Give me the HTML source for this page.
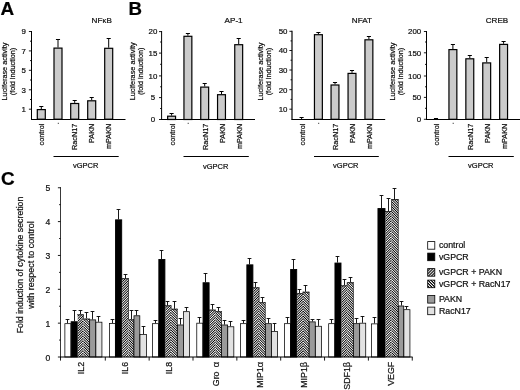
<!DOCTYPE html>
<html><head><meta charset="utf-8"><title>figure</title>
<style>
html,body{margin:0;padding:0;background:#fff;}
body{width:520px;height:390px;overflow:hidden;font-family:"Liberation Sans",sans-serif;}
svg{display:block;}
.bl{filter:blur(0.35px);}
svg text{font-family:"Liberation Sans",sans-serif;}
</style></head><body>
<svg width="520" height="390" viewBox="0 0 520 390">
<defs>
<pattern id="h1" width="1.75" height="1.75" patternUnits="userSpaceOnUse" patternTransform="rotate(-45)">
<rect width="1.75" height="1.75" fill="#fff"/><rect width="1.75" height="0.82" fill="#000" shape-rendering="crispEdges"/></pattern>
<pattern id="h2" width="1.75" height="1.75" patternUnits="userSpaceOnUse" patternTransform="rotate(45)">
<rect width="1.75" height="1.75" fill="#fff"/><rect width="1.75" height="0.82" fill="#000" shape-rendering="crispEdges"/></pattern>
<pattern id="h1L" width="2.1" height="2.1" patternUnits="userSpaceOnUse" patternTransform="rotate(-45)">
<rect width="2.1" height="2.1" fill="#fff"/><rect width="2.1" height="1.1" fill="#000"/></pattern>
<pattern id="h2L" width="2.1" height="2.1" patternUnits="userSpaceOnUse" patternTransform="rotate(45)">
<rect width="2.1" height="2.1" fill="#fff"/><rect width="2.1" height="1.1" fill="#000"/></pattern>
</defs>
<rect width="520" height="390" fill="#fff"/>
<g class="bl">
<line x1="41.30" y1="109.00" x2="41.30" y2="106.50" stroke="#000" stroke-width="1.0"/>
<line x1="39.25" y1="106.50" x2="43.35" y2="106.50" stroke="#000" stroke-width="1.0"/>
<rect x="37.30" y="109.60" width="8.00" height="9.60" fill="#cbcbcb" stroke="#000" stroke-width="1.2"/>
<line x1="58.00" y1="47.50" x2="58.00" y2="39.50" stroke="#000" stroke-width="1.0"/>
<line x1="55.95" y1="39.50" x2="60.05" y2="39.50" stroke="#000" stroke-width="1.0"/>
<rect x="54.00" y="48.10" width="8.00" height="71.10" fill="#cbcbcb" stroke="#000" stroke-width="1.2"/>
<line x1="74.70" y1="102.90" x2="74.70" y2="100.50" stroke="#000" stroke-width="1.0"/>
<line x1="72.65" y1="100.50" x2="76.75" y2="100.50" stroke="#000" stroke-width="1.0"/>
<rect x="70.70" y="103.50" width="8.00" height="15.70" fill="#cbcbcb" stroke="#000" stroke-width="1.2"/>
<line x1="91.70" y1="100.20" x2="91.70" y2="97.50" stroke="#000" stroke-width="1.0"/>
<line x1="89.65" y1="97.50" x2="93.75" y2="97.50" stroke="#000" stroke-width="1.0"/>
<rect x="87.70" y="100.80" width="8.00" height="18.40" fill="#cbcbcb" stroke="#000" stroke-width="1.2"/>
<line x1="108.70" y1="47.70" x2="108.70" y2="38.50" stroke="#000" stroke-width="1.0"/>
<line x1="106.65" y1="38.50" x2="110.75" y2="38.50" stroke="#000" stroke-width="1.0"/>
<rect x="104.70" y="48.30" width="8.00" height="70.90" fill="#cbcbcb" stroke="#000" stroke-width="1.2"/>
<line x1="31.50" y1="31.00" x2="31.50" y2="119.70" stroke="#000" stroke-width="1"/>
<line x1="31.00" y1="119.50" x2="125.50" y2="119.50" stroke="#000" stroke-width="1"/>
<line x1="28.90" y1="31.50" x2="31.50" y2="31.50" stroke="#000" stroke-width="0.9"/>
<text x="25.90" y="34.30" font-size="7.9" text-anchor="end" font-weight="normal" fill="#111" stroke="#111" stroke-width="0.22">9</text>
<line x1="28.90" y1="50.90" x2="31.50" y2="50.90" stroke="#000" stroke-width="0.9"/>
<text x="25.90" y="53.70" font-size="7.9" text-anchor="end" font-weight="normal" fill="#111" stroke="#111" stroke-width="0.22">7</text>
<line x1="28.90" y1="70.30" x2="31.50" y2="70.30" stroke="#000" stroke-width="0.9"/>
<text x="25.90" y="73.10" font-size="7.9" text-anchor="end" font-weight="normal" fill="#111" stroke="#111" stroke-width="0.22">5</text>
<line x1="28.90" y1="89.80" x2="31.50" y2="89.80" stroke="#000" stroke-width="0.9"/>
<text x="25.90" y="92.60" font-size="7.9" text-anchor="end" font-weight="normal" fill="#111" stroke="#111" stroke-width="0.22">3</text>
<line x1="28.90" y1="109.20" x2="31.50" y2="109.20" stroke="#000" stroke-width="0.9"/>
<text x="25.90" y="112.00" font-size="7.9" text-anchor="end" font-weight="normal" fill="#111" stroke="#111" stroke-width="0.22">1</text>
<line x1="30.00" y1="41.20" x2="31.50" y2="41.20" stroke="#000" stroke-width="0.9"/>
<line x1="30.00" y1="60.60" x2="31.50" y2="60.60" stroke="#000" stroke-width="0.9"/>
<line x1="30.00" y1="80.00" x2="31.50" y2="80.00" stroke="#000" stroke-width="0.9"/>
<line x1="30.00" y1="99.50" x2="31.50" y2="99.50" stroke="#000" stroke-width="0.9"/>
<text x="112.00" y="23.40" font-size="8.1" text-anchor="end" font-weight="normal" fill="#111" stroke="#111" stroke-width="0.22">NF<tspan font-size="7.6" dx="0.2">κ</tspan><tspan dx="0.2">B</tspan></text>
<text x="44.00" y="123.60" font-size="7.3" text-anchor="end" font-weight="normal" fill="#111" stroke="#111" stroke-width="0.22" transform="rotate(-90 44.00 123.60)">control</text>
<line x1="57.80" y1="123.30" x2="58.80" y2="123.30" stroke="#000" stroke-width="0.9"/>
<text x="77.40" y="123.60" font-size="7.3" text-anchor="end" font-weight="normal" fill="#111" stroke="#111" stroke-width="0.22" transform="rotate(-90 77.40 123.60)">RacN17</text>
<text x="94.40" y="123.60" font-size="7.3" text-anchor="end" font-weight="normal" fill="#111" stroke="#111" stroke-width="0.22" transform="rotate(-90 94.40 123.60)">PAKN</text>
<text x="111.40" y="123.60" font-size="7.3" text-anchor="end" font-weight="normal" fill="#111" stroke="#111" stroke-width="0.22" transform="rotate(-90 111.40 123.60)">mPAKN</text>
<line x1="53.50" y1="156.50" x2="118.70" y2="156.50" stroke="#000" stroke-width="1"/>
<text x="85.70" y="168.00" font-size="7.5" text-anchor="middle" font-weight="normal" fill="#111" stroke="#111" stroke-width="0.22">vGPCR</text>
<text x="6.80" y="71.50" font-size="7.3" text-anchor="middle" font-weight="normal" fill="#111" stroke="#111" stroke-width="0.22" transform="rotate(-90 6.80 71.50)">Luciferase activity</text>
<text x="14.60" y="71.50" font-size="7.25" text-anchor="middle" font-weight="normal" fill="#111" stroke="#111" stroke-width="0.22" transform="rotate(-90 14.60 71.50)">(fold induction)</text>
<line x1="171.60" y1="115.60" x2="171.60" y2="113.50" stroke="#000" stroke-width="1.0"/>
<line x1="169.55" y1="113.50" x2="173.65" y2="113.50" stroke="#000" stroke-width="1.0"/>
<rect x="167.65" y="116.20" width="7.90" height="3.30" fill="#cbcbcb" stroke="#000" stroke-width="1.2"/>
<line x1="187.90" y1="35.70" x2="187.90" y2="33.50" stroke="#000" stroke-width="1.0"/>
<line x1="185.85" y1="33.50" x2="189.95" y2="33.50" stroke="#000" stroke-width="1.0"/>
<rect x="183.95" y="36.30" width="7.90" height="83.20" fill="#cbcbcb" stroke="#000" stroke-width="1.2"/>
<line x1="204.70" y1="86.50" x2="204.70" y2="83.50" stroke="#000" stroke-width="1.0"/>
<line x1="202.65" y1="83.50" x2="206.75" y2="83.50" stroke="#000" stroke-width="1.0"/>
<rect x="200.75" y="87.10" width="7.90" height="32.40" fill="#cbcbcb" stroke="#000" stroke-width="1.2"/>
<line x1="221.50" y1="94.10" x2="221.50" y2="91.50" stroke="#000" stroke-width="1.0"/>
<line x1="219.45" y1="91.50" x2="223.55" y2="91.50" stroke="#000" stroke-width="1.0"/>
<rect x="217.55" y="94.70" width="7.90" height="24.80" fill="#cbcbcb" stroke="#000" stroke-width="1.2"/>
<line x1="238.70" y1="44.10" x2="238.70" y2="38.50" stroke="#000" stroke-width="1.0"/>
<line x1="236.65" y1="38.50" x2="240.75" y2="38.50" stroke="#000" stroke-width="1.0"/>
<rect x="234.75" y="44.70" width="7.90" height="74.80" fill="#cbcbcb" stroke="#000" stroke-width="1.2"/>
<line x1="161.60" y1="31.00" x2="161.60" y2="120.00" stroke="#000" stroke-width="1"/>
<line x1="161.10" y1="119.50" x2="255.00" y2="119.50" stroke="#000" stroke-width="1"/>
<line x1="159.00" y1="31.60" x2="161.60" y2="31.60" stroke="#000" stroke-width="0.9"/>
<text x="153.00" y="34.40" font-size="7.9" text-anchor="middle" font-weight="normal" fill="#111" stroke="#111" stroke-width="0.22">20</text>
<line x1="159.00" y1="53.10" x2="161.60" y2="53.10" stroke="#000" stroke-width="0.9"/>
<text x="153.00" y="55.90" font-size="7.9" text-anchor="middle" font-weight="normal" fill="#111" stroke="#111" stroke-width="0.22">15</text>
<line x1="159.00" y1="75.90" x2="161.60" y2="75.90" stroke="#000" stroke-width="0.9"/>
<text x="153.00" y="78.70" font-size="7.9" text-anchor="middle" font-weight="normal" fill="#111" stroke="#111" stroke-width="0.22">10</text>
<line x1="159.00" y1="97.60" x2="161.60" y2="97.60" stroke="#000" stroke-width="0.9"/>
<text x="153.00" y="100.40" font-size="7.9" text-anchor="middle" font-weight="normal" fill="#111" stroke="#111" stroke-width="0.22">5</text>
<line x1="159.00" y1="119.50" x2="161.60" y2="119.50" stroke="#000" stroke-width="0.9"/>
<text x="153.00" y="122.30" font-size="7.9" text-anchor="middle" font-weight="normal" fill="#111" stroke="#111" stroke-width="0.22">0</text>
<line x1="160.10" y1="42.00" x2="161.60" y2="42.00" stroke="#000" stroke-width="0.9"/>
<line x1="160.10" y1="64.30" x2="161.60" y2="64.30" stroke="#000" stroke-width="0.9"/>
<line x1="160.10" y1="86.80" x2="161.60" y2="86.80" stroke="#000" stroke-width="0.9"/>
<line x1="160.10" y1="108.50" x2="161.60" y2="108.50" stroke="#000" stroke-width="0.9"/>
<text x="242.60" y="23.00" font-size="8.1" text-anchor="end" font-weight="normal" fill="#111" stroke="#111" stroke-width="0.22">AP-1</text>
<text x="175.30" y="123.60" font-size="7.3" text-anchor="end" font-weight="normal" fill="#111" stroke="#111" stroke-width="0.22" transform="rotate(-90 175.30 123.60)">control</text>
<line x1="187.70" y1="123.30" x2="188.70" y2="123.30" stroke="#000" stroke-width="0.9"/>
<text x="208.40" y="123.60" font-size="7.3" text-anchor="end" font-weight="normal" fill="#111" stroke="#111" stroke-width="0.22" transform="rotate(-90 208.40 123.60)">RacN17</text>
<text x="225.20" y="123.60" font-size="7.3" text-anchor="end" font-weight="normal" fill="#111" stroke="#111" stroke-width="0.22" transform="rotate(-90 225.20 123.60)">PAKN</text>
<text x="242.40" y="123.60" font-size="7.3" text-anchor="end" font-weight="normal" fill="#111" stroke="#111" stroke-width="0.22" transform="rotate(-90 242.40 123.60)">mPAKN</text>
<line x1="183.50" y1="156.50" x2="248.80" y2="156.50" stroke="#000" stroke-width="1"/>
<text x="215.70" y="168.50" font-size="7.5" text-anchor="middle" font-weight="normal" fill="#111" stroke="#111" stroke-width="0.22">vGPCR</text>
<text x="134.80" y="71.30" font-size="7.3" text-anchor="middle" font-weight="normal" fill="#111" stroke="#111" stroke-width="0.22" transform="rotate(-90 134.80 71.30)">Luciferase activity</text>
<text x="143.40" y="71.30" font-size="7.25" text-anchor="middle" font-weight="normal" fill="#111" stroke="#111" stroke-width="0.22" transform="rotate(-90 143.40 71.30)">(fold induction)</text>
<line x1="301.60" y1="119.00" x2="301.60" y2="117.50" stroke="#000" stroke-width="1.0"/>
<line x1="299.55" y1="117.50" x2="303.65" y2="117.50" stroke="#000" stroke-width="1.0"/>
<line x1="318.40" y1="34.10" x2="318.40" y2="32.50" stroke="#000" stroke-width="1.0"/>
<line x1="316.35" y1="32.50" x2="320.45" y2="32.50" stroke="#000" stroke-width="1.0"/>
<rect x="314.45" y="34.70" width="7.90" height="84.60" fill="#cbcbcb" stroke="#000" stroke-width="1.2"/>
<line x1="335.00" y1="84.40" x2="335.00" y2="82.50" stroke="#000" stroke-width="1.0"/>
<line x1="332.95" y1="82.50" x2="337.05" y2="82.50" stroke="#000" stroke-width="1.0"/>
<rect x="331.05" y="85.00" width="7.90" height="34.30" fill="#cbcbcb" stroke="#000" stroke-width="1.2"/>
<line x1="352.00" y1="72.80" x2="352.00" y2="70.50" stroke="#000" stroke-width="1.0"/>
<line x1="349.95" y1="70.50" x2="354.05" y2="70.50" stroke="#000" stroke-width="1.0"/>
<rect x="348.05" y="73.40" width="7.90" height="45.90" fill="#cbcbcb" stroke="#000" stroke-width="1.2"/>
<line x1="368.90" y1="39.20" x2="368.90" y2="36.50" stroke="#000" stroke-width="1.0"/>
<line x1="366.85" y1="36.50" x2="370.95" y2="36.50" stroke="#000" stroke-width="1.0"/>
<rect x="364.95" y="39.80" width="7.90" height="79.50" fill="#cbcbcb" stroke="#000" stroke-width="1.2"/>
<line x1="292.00" y1="30.80" x2="292.00" y2="119.80" stroke="#000" stroke-width="1.2"/>
<line x1="291.50" y1="119.50" x2="385.20" y2="119.50" stroke="#000" stroke-width="1"/>
<line x1="289.40" y1="31.30" x2="292.00" y2="31.30" stroke="#000" stroke-width="0.9"/>
<text x="287.50" y="34.10" font-size="7.9" text-anchor="end" font-weight="normal" fill="#111" stroke="#111" stroke-width="0.22">50</text>
<line x1="289.40" y1="50.50" x2="292.00" y2="50.50" stroke="#000" stroke-width="0.9"/>
<text x="287.50" y="53.30" font-size="7.9" text-anchor="end" font-weight="normal" fill="#111" stroke="#111" stroke-width="0.22">40</text>
<line x1="289.40" y1="70.00" x2="292.00" y2="70.00" stroke="#000" stroke-width="0.9"/>
<text x="287.50" y="72.80" font-size="7.9" text-anchor="end" font-weight="normal" fill="#111" stroke="#111" stroke-width="0.22">30</text>
<line x1="289.40" y1="89.70" x2="292.00" y2="89.70" stroke="#000" stroke-width="0.9"/>
<text x="287.50" y="92.50" font-size="7.9" text-anchor="end" font-weight="normal" fill="#111" stroke="#111" stroke-width="0.22">20</text>
<line x1="289.40" y1="109.20" x2="292.00" y2="109.20" stroke="#000" stroke-width="0.9"/>
<text x="287.50" y="112.00" font-size="7.9" text-anchor="end" font-weight="normal" fill="#111" stroke="#111" stroke-width="0.22">10</text>
<line x1="290.50" y1="40.90" x2="292.00" y2="40.90" stroke="#000" stroke-width="0.9"/>
<line x1="290.50" y1="60.20" x2="292.00" y2="60.20" stroke="#000" stroke-width="0.9"/>
<line x1="290.50" y1="79.80" x2="292.00" y2="79.80" stroke="#000" stroke-width="0.9"/>
<line x1="290.50" y1="99.40" x2="292.00" y2="99.40" stroke="#000" stroke-width="0.9"/>
<text x="371.90" y="23.00" font-size="8.1" text-anchor="end" font-weight="normal" fill="#111" stroke="#111" stroke-width="0.22">NFAT</text>
<text x="305.10" y="123.60" font-size="7.3" text-anchor="end" font-weight="normal" fill="#111" stroke="#111" stroke-width="0.22" transform="rotate(-90 305.10 123.60)">control</text>
<line x1="318.20" y1="123.30" x2="319.20" y2="123.30" stroke="#000" stroke-width="0.9"/>
<text x="338.50" y="123.60" font-size="7.3" text-anchor="end" font-weight="normal" fill="#111" stroke="#111" stroke-width="0.22" transform="rotate(-90 338.50 123.60)">RacN17</text>
<text x="355.50" y="123.60" font-size="7.3" text-anchor="end" font-weight="normal" fill="#111" stroke="#111" stroke-width="0.22" transform="rotate(-90 355.50 123.60)">PAKN</text>
<text x="372.40" y="123.60" font-size="7.3" text-anchor="end" font-weight="normal" fill="#111" stroke="#111" stroke-width="0.22" transform="rotate(-90 372.40 123.60)">mPAKN</text>
<line x1="314.00" y1="156.50" x2="378.80" y2="156.50" stroke="#000" stroke-width="1"/>
<text x="345.80" y="168.30" font-size="7.5" text-anchor="middle" font-weight="normal" fill="#111" stroke="#111" stroke-width="0.22">vGPCR</text>
<text x="263.30" y="71.50" font-size="7.3" text-anchor="middle" font-weight="normal" fill="#111" stroke="#111" stroke-width="0.22" transform="rotate(-90 263.30 71.50)">Luciferase activity</text>
<text x="271.20" y="71.50" font-size="7.25" text-anchor="middle" font-weight="normal" fill="#111" stroke="#111" stroke-width="0.22" transform="rotate(-90 271.20 71.50)">(fold induction)</text>
<line x1="436.00" y1="119.00" x2="436.00" y2="118.50" stroke="#000" stroke-width="1.0"/>
<line x1="433.95" y1="118.50" x2="438.05" y2="118.50" stroke="#000" stroke-width="1.0"/>
<line x1="452.90" y1="49.00" x2="452.90" y2="44.50" stroke="#000" stroke-width="1.0"/>
<line x1="450.85" y1="44.50" x2="454.95" y2="44.50" stroke="#000" stroke-width="1.0"/>
<rect x="448.95" y="49.60" width="7.90" height="69.70" fill="#cbcbcb" stroke="#000" stroke-width="1.2"/>
<line x1="469.80" y1="58.20" x2="469.80" y2="55.50" stroke="#000" stroke-width="1.0"/>
<line x1="467.75" y1="55.50" x2="471.85" y2="55.50" stroke="#000" stroke-width="1.0"/>
<rect x="465.85" y="58.80" width="7.90" height="60.50" fill="#cbcbcb" stroke="#000" stroke-width="1.2"/>
<line x1="486.70" y1="62.30" x2="486.70" y2="57.50" stroke="#000" stroke-width="1.0"/>
<line x1="484.65" y1="57.50" x2="488.75" y2="57.50" stroke="#000" stroke-width="1.0"/>
<rect x="482.75" y="62.90" width="7.90" height="56.40" fill="#cbcbcb" stroke="#000" stroke-width="1.2"/>
<line x1="503.60" y1="43.80" x2="503.60" y2="41.50" stroke="#000" stroke-width="1.0"/>
<line x1="501.55" y1="41.50" x2="505.65" y2="41.50" stroke="#000" stroke-width="1.0"/>
<rect x="499.65" y="44.40" width="7.90" height="74.90" fill="#cbcbcb" stroke="#000" stroke-width="1.2"/>
<line x1="426.50" y1="31.00" x2="426.50" y2="119.80" stroke="#000" stroke-width="1"/>
<line x1="426.00" y1="119.50" x2="520.00" y2="119.50" stroke="#000" stroke-width="1"/>
<line x1="423.90" y1="31.50" x2="426.50" y2="31.50" stroke="#000" stroke-width="0.9"/>
<text x="421.20" y="34.30" font-size="7.9" text-anchor="end" font-weight="normal" fill="#111" stroke="#111" stroke-width="0.22">200</text>
<line x1="423.90" y1="52.80" x2="426.50" y2="52.80" stroke="#000" stroke-width="0.9"/>
<text x="421.20" y="55.60" font-size="7.9" text-anchor="end" font-weight="normal" fill="#111" stroke="#111" stroke-width="0.22">150</text>
<line x1="423.90" y1="76.00" x2="426.50" y2="76.00" stroke="#000" stroke-width="0.9"/>
<text x="421.20" y="78.80" font-size="7.9" text-anchor="end" font-weight="normal" fill="#111" stroke="#111" stroke-width="0.22">100</text>
<line x1="423.90" y1="97.40" x2="426.50" y2="97.40" stroke="#000" stroke-width="0.9"/>
<text x="421.20" y="100.20" font-size="7.9" text-anchor="end" font-weight="normal" fill="#111" stroke="#111" stroke-width="0.22">50</text>
<line x1="423.90" y1="119.30" x2="426.50" y2="119.30" stroke="#000" stroke-width="0.9"/>
<text x="421.20" y="122.10" font-size="7.9" text-anchor="end" font-weight="normal" fill="#111" stroke="#111" stroke-width="0.22">0</text>
<line x1="425.00" y1="42.00" x2="426.50" y2="42.00" stroke="#000" stroke-width="0.9"/>
<line x1="425.00" y1="64.40" x2="426.50" y2="64.40" stroke="#000" stroke-width="0.9"/>
<line x1="425.00" y1="86.80" x2="426.50" y2="86.80" stroke="#000" stroke-width="0.9"/>
<line x1="425.00" y1="108.30" x2="426.50" y2="108.30" stroke="#000" stroke-width="0.9"/>
<text x="508.20" y="23.00" font-size="8.1" text-anchor="end" font-weight="normal" fill="#111" stroke="#111" stroke-width="0.22">CREB</text>
<text x="439.10" y="123.60" font-size="7.3" text-anchor="end" font-weight="normal" fill="#111" stroke="#111" stroke-width="0.22" transform="rotate(-90 439.10 123.60)">control</text>
<line x1="452.70" y1="123.30" x2="453.70" y2="123.30" stroke="#000" stroke-width="0.9"/>
<text x="472.90" y="123.60" font-size="7.3" text-anchor="end" font-weight="normal" fill="#111" stroke="#111" stroke-width="0.22" transform="rotate(-90 472.90 123.60)">RacN17</text>
<text x="489.80" y="123.60" font-size="7.3" text-anchor="end" font-weight="normal" fill="#111" stroke="#111" stroke-width="0.22" transform="rotate(-90 489.80 123.60)">PAKN</text>
<text x="506.70" y="123.60" font-size="7.3" text-anchor="end" font-weight="normal" fill="#111" stroke="#111" stroke-width="0.22" transform="rotate(-90 506.70 123.60)">mPAKN</text>
<line x1="448.50" y1="156.50" x2="513.80" y2="156.50" stroke="#000" stroke-width="1"/>
<text x="480.80" y="168.00" font-size="7.5" text-anchor="middle" font-weight="normal" fill="#111" stroke="#111" stroke-width="0.22">vGPCR</text>
<text x="394.80" y="71.50" font-size="7.3" text-anchor="middle" font-weight="normal" fill="#111" stroke="#111" stroke-width="0.22" transform="rotate(-90 394.80 71.50)">Luciferase activity</text>
<text x="402.70" y="71.50" font-size="7.25" text-anchor="middle" font-weight="normal" fill="#111" stroke="#111" stroke-width="0.22" transform="rotate(-90 402.70 71.50)">(fold induction)</text>
<text x="0.60" y="15.20" font-size="18.9" text-anchor="start" font-weight="bold" fill="#000" stroke="#000" stroke-width="0.22">A</text>
<text x="128.60" y="15.20" font-size="18.7" text-anchor="start" font-weight="bold" fill="#000" stroke="#000" stroke-width="0.22">B</text>
<text x="1.00" y="185.00" font-size="18.9" text-anchor="start" font-weight="bold" fill="#000" stroke="#000" stroke-width="0.22">C</text>
<line x1="67.50" y1="323.30" x2="67.50" y2="319.50" stroke="#000" stroke-width="0.9"/>
<line x1="65.60" y1="319.50" x2="69.40" y2="319.50" stroke="#000" stroke-width="0.9"/>
<line x1="74.50" y1="321.30" x2="74.50" y2="310.50" stroke="#000" stroke-width="0.9"/>
<line x1="72.60" y1="310.50" x2="76.40" y2="310.50" stroke="#000" stroke-width="0.9"/>
<line x1="80.50" y1="314.40" x2="80.50" y2="310.50" stroke="#000" stroke-width="0.9"/>
<line x1="78.60" y1="310.50" x2="82.40" y2="310.50" stroke="#000" stroke-width="0.9"/>
<line x1="86.50" y1="318.70" x2="86.50" y2="312.50" stroke="#000" stroke-width="0.9"/>
<line x1="84.60" y1="312.50" x2="88.40" y2="312.50" stroke="#000" stroke-width="0.9"/>
<line x1="92.50" y1="319.50" x2="92.50" y2="311.50" stroke="#000" stroke-width="0.9"/>
<line x1="90.60" y1="311.50" x2="94.40" y2="311.50" stroke="#000" stroke-width="0.9"/>
<line x1="98.50" y1="321.80" x2="98.50" y2="316.50" stroke="#000" stroke-width="0.9"/>
<line x1="96.60" y1="316.50" x2="100.40" y2="316.50" stroke="#000" stroke-width="0.9"/>
<line x1="112.50" y1="323.10" x2="112.50" y2="319.50" stroke="#000" stroke-width="0.9"/>
<line x1="110.60" y1="319.50" x2="114.40" y2="319.50" stroke="#000" stroke-width="0.9"/>
<line x1="118.50" y1="219.40" x2="118.50" y2="209.50" stroke="#000" stroke-width="0.9"/>
<line x1="116.60" y1="209.50" x2="120.40" y2="209.50" stroke="#000" stroke-width="0.9"/>
<line x1="125.50" y1="278.30" x2="125.50" y2="274.50" stroke="#000" stroke-width="0.9"/>
<line x1="123.60" y1="274.50" x2="127.40" y2="274.50" stroke="#000" stroke-width="0.9"/>
<line x1="131.50" y1="319.40" x2="131.50" y2="310.50" stroke="#000" stroke-width="0.9"/>
<line x1="129.60" y1="310.50" x2="133.40" y2="310.50" stroke="#000" stroke-width="0.9"/>
<line x1="136.50" y1="315.40" x2="136.50" y2="310.50" stroke="#000" stroke-width="0.9"/>
<line x1="134.60" y1="310.50" x2="138.40" y2="310.50" stroke="#000" stroke-width="0.9"/>
<line x1="143.50" y1="334.20" x2="143.50" y2="326.50" stroke="#000" stroke-width="0.9"/>
<line x1="141.60" y1="326.50" x2="145.40" y2="326.50" stroke="#000" stroke-width="0.9"/>
<line x1="155.50" y1="323.30" x2="155.50" y2="320.50" stroke="#000" stroke-width="0.9"/>
<line x1="153.60" y1="320.50" x2="157.40" y2="320.50" stroke="#000" stroke-width="0.9"/>
<line x1="161.50" y1="259.00" x2="161.50" y2="250.50" stroke="#000" stroke-width="0.9"/>
<line x1="159.60" y1="250.50" x2="163.40" y2="250.50" stroke="#000" stroke-width="0.9"/>
<line x1="167.50" y1="305.40" x2="167.50" y2="301.50" stroke="#000" stroke-width="0.9"/>
<line x1="165.60" y1="301.50" x2="169.40" y2="301.50" stroke="#000" stroke-width="0.9"/>
<line x1="174.50" y1="308.80" x2="174.50" y2="301.50" stroke="#000" stroke-width="0.9"/>
<line x1="172.60" y1="301.50" x2="176.40" y2="301.50" stroke="#000" stroke-width="0.9"/>
<line x1="180.50" y1="324.60" x2="180.50" y2="318.50" stroke="#000" stroke-width="0.9"/>
<line x1="178.60" y1="318.50" x2="182.40" y2="318.50" stroke="#000" stroke-width="0.9"/>
<line x1="186.50" y1="311.30" x2="186.50" y2="307.50" stroke="#000" stroke-width="0.9"/>
<line x1="184.60" y1="307.50" x2="188.40" y2="307.50" stroke="#000" stroke-width="0.9"/>
<line x1="199.50" y1="322.80" x2="199.50" y2="317.50" stroke="#000" stroke-width="0.9"/>
<line x1="197.60" y1="317.50" x2="201.40" y2="317.50" stroke="#000" stroke-width="0.9"/>
<line x1="205.50" y1="282.30" x2="205.50" y2="273.50" stroke="#000" stroke-width="0.9"/>
<line x1="203.60" y1="273.50" x2="207.40" y2="273.50" stroke="#000" stroke-width="0.9"/>
<line x1="212.50" y1="309.70" x2="212.50" y2="304.50" stroke="#000" stroke-width="0.9"/>
<line x1="210.60" y1="304.50" x2="214.40" y2="304.50" stroke="#000" stroke-width="0.9"/>
<line x1="218.50" y1="311.30" x2="218.50" y2="307.50" stroke="#000" stroke-width="0.9"/>
<line x1="216.60" y1="307.50" x2="220.40" y2="307.50" stroke="#000" stroke-width="0.9"/>
<line x1="224.50" y1="324.60" x2="224.50" y2="320.50" stroke="#000" stroke-width="0.9"/>
<line x1="222.60" y1="320.50" x2="226.40" y2="320.50" stroke="#000" stroke-width="0.9"/>
<line x1="230.50" y1="326.40" x2="230.50" y2="321.50" stroke="#000" stroke-width="0.9"/>
<line x1="228.60" y1="321.50" x2="232.40" y2="321.50" stroke="#000" stroke-width="0.9"/>
<line x1="243.50" y1="323.30" x2="243.50" y2="320.50" stroke="#000" stroke-width="0.9"/>
<line x1="241.60" y1="320.50" x2="245.40" y2="320.50" stroke="#000" stroke-width="0.9"/>
<line x1="249.50" y1="264.40" x2="249.50" y2="258.50" stroke="#000" stroke-width="0.9"/>
<line x1="247.60" y1="258.50" x2="251.40" y2="258.50" stroke="#000" stroke-width="0.9"/>
<line x1="255.50" y1="287.40" x2="255.50" y2="282.50" stroke="#000" stroke-width="0.9"/>
<line x1="253.60" y1="282.50" x2="257.40" y2="282.50" stroke="#000" stroke-width="0.9"/>
<line x1="262.50" y1="302.30" x2="262.50" y2="297.50" stroke="#000" stroke-width="0.9"/>
<line x1="260.60" y1="297.50" x2="264.40" y2="297.50" stroke="#000" stroke-width="0.9"/>
<line x1="268.50" y1="323.30" x2="268.50" y2="318.50" stroke="#000" stroke-width="0.9"/>
<line x1="266.60" y1="318.50" x2="270.40" y2="318.50" stroke="#000" stroke-width="0.9"/>
<line x1="274.50" y1="331.00" x2="274.50" y2="323.50" stroke="#000" stroke-width="0.9"/>
<line x1="272.60" y1="323.50" x2="276.40" y2="323.50" stroke="#000" stroke-width="0.9"/>
<line x1="287.50" y1="323.30" x2="287.50" y2="317.50" stroke="#000" stroke-width="0.9"/>
<line x1="285.60" y1="317.50" x2="289.40" y2="317.50" stroke="#000" stroke-width="0.9"/>
<line x1="293.50" y1="269.00" x2="293.50" y2="259.50" stroke="#000" stroke-width="0.9"/>
<line x1="291.60" y1="259.50" x2="295.40" y2="259.50" stroke="#000" stroke-width="0.9"/>
<line x1="299.50" y1="293.30" x2="299.50" y2="289.50" stroke="#000" stroke-width="0.9"/>
<line x1="297.60" y1="289.50" x2="301.40" y2="289.50" stroke="#000" stroke-width="0.9"/>
<line x1="305.50" y1="291.80" x2="305.50" y2="285.50" stroke="#000" stroke-width="0.9"/>
<line x1="303.60" y1="285.50" x2="307.40" y2="285.50" stroke="#000" stroke-width="0.9"/>
<line x1="312.50" y1="321.50" x2="312.50" y2="319.50" stroke="#000" stroke-width="0.9"/>
<line x1="310.60" y1="319.50" x2="314.40" y2="319.50" stroke="#000" stroke-width="0.9"/>
<line x1="318.50" y1="325.90" x2="318.50" y2="319.50" stroke="#000" stroke-width="0.9"/>
<line x1="316.60" y1="319.50" x2="320.40" y2="319.50" stroke="#000" stroke-width="0.9"/>
<line x1="331.50" y1="323.30" x2="331.50" y2="319.50" stroke="#000" stroke-width="0.9"/>
<line x1="329.60" y1="319.50" x2="333.40" y2="319.50" stroke="#000" stroke-width="0.9"/>
<line x1="337.50" y1="262.60" x2="337.50" y2="256.50" stroke="#000" stroke-width="0.9"/>
<line x1="335.60" y1="256.50" x2="339.40" y2="256.50" stroke="#000" stroke-width="0.9"/>
<line x1="344.50" y1="285.40" x2="344.50" y2="279.50" stroke="#000" stroke-width="0.9"/>
<line x1="342.60" y1="279.50" x2="346.40" y2="279.50" stroke="#000" stroke-width="0.9"/>
<line x1="350.50" y1="282.30" x2="350.50" y2="277.50" stroke="#000" stroke-width="0.9"/>
<line x1="348.60" y1="277.50" x2="352.40" y2="277.50" stroke="#000" stroke-width="0.9"/>
<line x1="356.50" y1="323.30" x2="356.50" y2="318.50" stroke="#000" stroke-width="0.9"/>
<line x1="354.60" y1="318.50" x2="358.40" y2="318.50" stroke="#000" stroke-width="0.9"/>
<line x1="362.50" y1="322.80" x2="362.50" y2="316.50" stroke="#000" stroke-width="0.9"/>
<line x1="360.60" y1="316.50" x2="364.40" y2="316.50" stroke="#000" stroke-width="0.9"/>
<line x1="374.50" y1="323.50" x2="374.50" y2="317.50" stroke="#000" stroke-width="0.9"/>
<line x1="372.60" y1="317.50" x2="376.40" y2="317.50" stroke="#000" stroke-width="0.9"/>
<line x1="381.50" y1="208.10" x2="381.50" y2="195.50" stroke="#000" stroke-width="0.9"/>
<line x1="379.60" y1="195.50" x2="383.40" y2="195.50" stroke="#000" stroke-width="0.9"/>
<line x1="388.50" y1="211.20" x2="388.50" y2="198.50" stroke="#000" stroke-width="0.9"/>
<line x1="386.60" y1="198.50" x2="390.40" y2="198.50" stroke="#000" stroke-width="0.9"/>
<line x1="394.50" y1="199.20" x2="394.50" y2="188.50" stroke="#000" stroke-width="0.9"/>
<line x1="392.60" y1="188.50" x2="396.40" y2="188.50" stroke="#000" stroke-width="0.9"/>
<line x1="401.50" y1="305.60" x2="401.50" y2="301.50" stroke="#000" stroke-width="0.9"/>
<line x1="399.60" y1="301.50" x2="403.40" y2="301.50" stroke="#000" stroke-width="0.9"/>
<line x1="406.50" y1="309.30" x2="406.50" y2="306.50" stroke="#000" stroke-width="0.9"/>
<line x1="404.60" y1="306.50" x2="408.40" y2="306.50" stroke="#000" stroke-width="0.9"/>
</g>
<g>
<rect x="77.70" y="314.40" width="5.80" height="42.60" fill="url(#h1)"/>
<rect x="83.40" y="318.70" width="6.30" height="38.30" fill="url(#h2)"/>
<rect x="122.20" y="278.30" width="6.40" height="78.70" fill="url(#h1)"/>
<rect x="128.50" y="319.40" width="5.50" height="37.60" fill="url(#h2)"/>
<rect x="165.40" y="305.40" width="5.80" height="51.60" fill="url(#h1)"/>
<rect x="171.10" y="308.80" width="6.30" height="48.20" fill="url(#h2)"/>
<rect x="209.60" y="309.70" width="5.80" height="47.30" fill="url(#h1)"/>
<rect x="215.30" y="311.30" width="6.30" height="45.70" fill="url(#h2)"/>
<rect x="253.40" y="287.40" width="5.80" height="69.60" fill="url(#h1)"/>
<rect x="259.10" y="302.30" width="6.30" height="54.70" fill="url(#h2)"/>
<rect x="297.20" y="293.30" width="5.80" height="63.70" fill="url(#h1)"/>
<rect x="302.90" y="291.80" width="6.30" height="65.20" fill="url(#h2)"/>
<rect x="341.50" y="285.40" width="5.80" height="71.60" fill="url(#h1)"/>
<rect x="347.20" y="282.30" width="6.30" height="74.70" fill="url(#h2)"/>
<rect x="385.50" y="211.20" width="6.10" height="145.80" fill="url(#h1)"/>
<rect x="391.50" y="199.20" width="6.90" height="157.80" fill="url(#h2)"/>
</g>
<g class="bl">
<rect x="64.88" y="323.68" width="6.05" height="33.32" fill="#fff" stroke="#000" stroke-width="0.75"/>
<rect x="71.15" y="321.75" width="6.05" height="35.25" fill="#000" stroke="#000" stroke-width="0.9"/>
<line x1="77.10" y1="314.80" x2="83.60" y2="314.80" stroke="#000" stroke-width="0.8"/>
<line x1="83.40" y1="314.40" x2="83.40" y2="318.70" stroke="#000" stroke-width="0.6"/>
<line x1="83.30" y1="319.10" x2="89.80" y2="319.10" stroke="#000" stroke-width="0.8"/>
<line x1="89.60" y1="318.70" x2="89.60" y2="357.00" stroke="#000" stroke-width="0.6"/>
<rect x="89.67" y="319.88" width="6.05" height="37.12" fill="#9a9a9a" stroke="#000" stroke-width="0.75"/>
<rect x="95.88" y="322.18" width="6.05" height="34.82" fill="#e2e2e2" stroke="#000" stroke-width="0.75"/>
<text x="84.20" y="361.90" font-size="8.8" text-anchor="end" font-weight="normal" fill="#111" stroke="#111" stroke-width="0.22" transform="rotate(-90 84.20 361.90)">IL2</text>
<rect x="109.38" y="323.48" width="5.95" height="33.52" fill="#fff" stroke="#000" stroke-width="0.75"/>
<rect x="115.55" y="219.85" width="6.15" height="137.15" fill="#000" stroke="#000" stroke-width="0.9"/>
<line x1="121.60" y1="278.70" x2="128.70" y2="278.70" stroke="#000" stroke-width="0.8"/>
<line x1="128.50" y1="278.30" x2="128.50" y2="319.40" stroke="#000" stroke-width="0.6"/>
<line x1="128.40" y1="319.80" x2="134.10" y2="319.80" stroke="#000" stroke-width="0.8"/>
<line x1="133.90" y1="319.40" x2="133.90" y2="357.00" stroke="#000" stroke-width="0.6"/>
<rect x="133.97" y="315.77" width="5.85" height="41.23" fill="#9a9a9a" stroke="#000" stroke-width="0.75"/>
<rect x="139.97" y="334.57" width="6.65" height="22.43" fill="#e2e2e2" stroke="#000" stroke-width="0.75"/>
<text x="128.50" y="361.90" font-size="8.8" text-anchor="end" font-weight="normal" fill="#111" stroke="#111" stroke-width="0.22" transform="rotate(-90 128.50 361.90)">IL6</text>
<rect x="152.57" y="323.68" width="6.05" height="33.32" fill="#fff" stroke="#000" stroke-width="0.75"/>
<rect x="158.85" y="259.45" width="6.05" height="97.55" fill="#000" stroke="#000" stroke-width="0.9"/>
<line x1="164.80" y1="305.80" x2="171.30" y2="305.80" stroke="#000" stroke-width="0.8"/>
<line x1="171.10" y1="305.40" x2="171.10" y2="308.80" stroke="#000" stroke-width="0.6"/>
<line x1="171.00" y1="309.20" x2="177.50" y2="309.20" stroke="#000" stroke-width="0.8"/>
<line x1="177.30" y1="308.80" x2="177.30" y2="357.00" stroke="#000" stroke-width="0.6"/>
<rect x="177.38" y="324.98" width="6.05" height="32.02" fill="#9a9a9a" stroke="#000" stroke-width="0.75"/>
<rect x="183.57" y="311.68" width="6.05" height="45.32" fill="#e2e2e2" stroke="#000" stroke-width="0.75"/>
<text x="171.80" y="361.90" font-size="8.8" text-anchor="end" font-weight="normal" fill="#111" stroke="#111" stroke-width="0.22" transform="rotate(-90 171.80 361.90)">IL8</text>
<rect x="196.78" y="323.18" width="6.05" height="33.82" fill="#fff" stroke="#000" stroke-width="0.75"/>
<rect x="203.05" y="282.75" width="6.05" height="74.25" fill="#000" stroke="#000" stroke-width="0.9"/>
<line x1="209.00" y1="310.10" x2="215.50" y2="310.10" stroke="#000" stroke-width="0.8"/>
<line x1="215.30" y1="309.70" x2="215.30" y2="311.30" stroke="#000" stroke-width="0.6"/>
<line x1="215.20" y1="311.70" x2="221.70" y2="311.70" stroke="#000" stroke-width="0.8"/>
<line x1="221.50" y1="311.30" x2="221.50" y2="357.00" stroke="#000" stroke-width="0.6"/>
<rect x="221.58" y="324.98" width="6.05" height="32.02" fill="#9a9a9a" stroke="#000" stroke-width="0.75"/>
<rect x="227.78" y="326.77" width="6.05" height="30.23" fill="#e2e2e2" stroke="#000" stroke-width="0.75"/>
<text x="219.30" y="361.90" font-size="8.8" text-anchor="end" font-weight="normal" fill="#111" stroke="#111" stroke-width="0.22" transform="rotate(-90 219.30 361.90)">Gro<tspan font-size="9.2" dx="4.3">α</tspan></text>
<rect x="240.57" y="323.68" width="6.05" height="33.32" fill="#fff" stroke="#000" stroke-width="0.75"/>
<rect x="246.85" y="264.85" width="6.05" height="92.15" fill="#000" stroke="#000" stroke-width="0.9"/>
<line x1="252.80" y1="287.80" x2="259.30" y2="287.80" stroke="#000" stroke-width="0.8"/>
<line x1="259.10" y1="287.40" x2="259.10" y2="302.30" stroke="#000" stroke-width="0.6"/>
<line x1="259.00" y1="302.70" x2="265.50" y2="302.70" stroke="#000" stroke-width="0.8"/>
<line x1="265.30" y1="302.30" x2="265.30" y2="357.00" stroke="#000" stroke-width="0.6"/>
<rect x="265.38" y="323.68" width="6.05" height="33.32" fill="#9a9a9a" stroke="#000" stroke-width="0.75"/>
<rect x="271.57" y="331.38" width="6.05" height="25.62" fill="#e2e2e2" stroke="#000" stroke-width="0.75"/>
<text x="263.00" y="361.90" font-size="8.8" text-anchor="end" font-weight="normal" fill="#111" stroke="#111" stroke-width="0.22" transform="rotate(-90 263.00 361.90)">MIP1<tspan font-size="9.2">α</tspan></text>
<rect x="284.38" y="323.68" width="6.05" height="33.32" fill="#fff" stroke="#000" stroke-width="0.75"/>
<rect x="290.65" y="269.45" width="6.05" height="87.55" fill="#000" stroke="#000" stroke-width="0.9"/>
<line x1="296.60" y1="293.70" x2="303.10" y2="293.70" stroke="#000" stroke-width="0.8"/>
<line x1="302.80" y1="292.20" x2="309.30" y2="292.20" stroke="#000" stroke-width="0.8"/>
<line x1="309.10" y1="291.80" x2="309.10" y2="357.00" stroke="#000" stroke-width="0.6"/>
<line x1="302.90" y1="291.80" x2="302.90" y2="293.30" stroke="#000" stroke-width="0.6"/>
<rect x="309.18" y="321.88" width="6.05" height="35.12" fill="#9a9a9a" stroke="#000" stroke-width="0.75"/>
<rect x="315.38" y="326.27" width="6.05" height="30.73" fill="#e2e2e2" stroke="#000" stroke-width="0.75"/>
<text x="306.80" y="361.90" font-size="8.8" text-anchor="end" font-weight="normal" fill="#111" stroke="#111" stroke-width="0.22" transform="rotate(-90 306.80 361.90)">MIP1<tspan font-size="9.2">β</tspan></text>
<rect x="328.68" y="323.68" width="6.05" height="33.32" fill="#fff" stroke="#000" stroke-width="0.75"/>
<rect x="334.95" y="263.05" width="6.05" height="93.95" fill="#000" stroke="#000" stroke-width="0.9"/>
<line x1="340.90" y1="285.80" x2="347.40" y2="285.80" stroke="#000" stroke-width="0.8"/>
<line x1="347.10" y1="282.70" x2="353.60" y2="282.70" stroke="#000" stroke-width="0.8"/>
<line x1="353.40" y1="282.30" x2="353.40" y2="357.00" stroke="#000" stroke-width="0.6"/>
<line x1="347.20" y1="282.30" x2="347.20" y2="285.40" stroke="#000" stroke-width="0.6"/>
<rect x="353.48" y="323.68" width="6.05" height="33.32" fill="#9a9a9a" stroke="#000" stroke-width="0.75"/>
<rect x="359.68" y="323.18" width="6.05" height="33.82" fill="#e2e2e2" stroke="#000" stroke-width="0.75"/>
<text x="350.00" y="361.90" font-size="8.8" text-anchor="end" font-weight="normal" fill="#111" stroke="#111" stroke-width="0.22" transform="rotate(-90 350.00 361.90)">SDF1<tspan font-size="9.2">β</tspan></text>
<rect x="371.52" y="323.88" width="6.20" height="33.12" fill="#fff" stroke="#000" stroke-width="0.75"/>
<rect x="377.95" y="208.55" width="7.05" height="148.45" fill="#000" stroke="#000" stroke-width="0.9"/>
<line x1="384.90" y1="211.60" x2="391.70" y2="211.60" stroke="#000" stroke-width="0.8"/>
<line x1="391.40" y1="199.60" x2="398.50" y2="199.60" stroke="#000" stroke-width="0.8"/>
<line x1="398.30" y1="199.20" x2="398.30" y2="357.00" stroke="#000" stroke-width="0.6"/>
<line x1="391.50" y1="199.20" x2="391.50" y2="211.20" stroke="#000" stroke-width="0.6"/>
<rect x="398.38" y="305.98" width="5.35" height="51.02" fill="#9a9a9a" stroke="#000" stroke-width="0.75"/>
<rect x="403.88" y="309.68" width="6.05" height="47.32" fill="#e2e2e2" stroke="#000" stroke-width="0.75"/>
<text x="394.30" y="361.90" font-size="8.8" text-anchor="end" font-weight="normal" fill="#111" stroke="#111" stroke-width="0.22" transform="rotate(-90 394.30 361.90)">VEGF</text>
<line x1="60.50" y1="187.10" x2="60.50" y2="357.50" stroke="#222" stroke-width="0.9"/>
<line x1="60.00" y1="357.00" x2="412.60" y2="357.00" stroke="#000" stroke-width="1"/>
<line x1="57.90" y1="357.00" x2="60.50" y2="357.00" stroke="#000" stroke-width="0.9"/>
<text x="50.20" y="360.70" font-size="8.6" text-anchor="end" font-weight="normal" fill="#111" stroke="#111" stroke-width="0.22">0</text>
<line x1="59.10" y1="340.07" x2="60.50" y2="340.07" stroke="#000" stroke-width="0.9"/>
<line x1="57.90" y1="323.15" x2="60.50" y2="323.15" stroke="#000" stroke-width="0.9"/>
<text x="50.20" y="326.85" font-size="8.6" text-anchor="end" font-weight="normal" fill="#111" stroke="#111" stroke-width="0.22">1</text>
<line x1="59.10" y1="306.22" x2="60.50" y2="306.22" stroke="#000" stroke-width="0.9"/>
<line x1="57.90" y1="289.30" x2="60.50" y2="289.30" stroke="#000" stroke-width="0.9"/>
<text x="50.20" y="293.00" font-size="8.6" text-anchor="end" font-weight="normal" fill="#111" stroke="#111" stroke-width="0.22">2</text>
<line x1="59.10" y1="272.38" x2="60.50" y2="272.38" stroke="#000" stroke-width="0.9"/>
<line x1="57.90" y1="255.45" x2="60.50" y2="255.45" stroke="#000" stroke-width="0.9"/>
<text x="50.20" y="259.15" font-size="8.6" text-anchor="end" font-weight="normal" fill="#111" stroke="#111" stroke-width="0.22">3</text>
<line x1="59.10" y1="238.52" x2="60.50" y2="238.52" stroke="#000" stroke-width="0.9"/>
<line x1="57.90" y1="221.60" x2="60.50" y2="221.60" stroke="#000" stroke-width="0.9"/>
<text x="50.20" y="225.30" font-size="8.6" text-anchor="end" font-weight="normal" fill="#111" stroke="#111" stroke-width="0.22">4</text>
<line x1="59.10" y1="204.67" x2="60.50" y2="204.67" stroke="#000" stroke-width="0.9"/>
<line x1="57.90" y1="187.75" x2="60.50" y2="187.75" stroke="#000" stroke-width="0.9"/>
<text x="50.20" y="191.45" font-size="8.6" text-anchor="end" font-weight="normal" fill="#111" stroke="#111" stroke-width="0.22">5</text>
<line x1="105.30" y1="357.00" x2="105.30" y2="360.60" stroke="#000" stroke-width="0.9"/>
<line x1="149.15" y1="357.00" x2="149.15" y2="360.60" stroke="#000" stroke-width="0.9"/>
<line x1="193.00" y1="357.00" x2="193.00" y2="360.60" stroke="#000" stroke-width="0.9"/>
<line x1="236.85" y1="357.00" x2="236.85" y2="360.60" stroke="#000" stroke-width="0.9"/>
<line x1="280.70" y1="357.00" x2="280.70" y2="360.60" stroke="#000" stroke-width="0.9"/>
<line x1="324.55" y1="357.00" x2="324.55" y2="360.60" stroke="#000" stroke-width="0.9"/>
<line x1="368.40" y1="357.00" x2="368.40" y2="360.60" stroke="#000" stroke-width="0.9"/>
<line x1="412.25" y1="357.00" x2="412.25" y2="360.60" stroke="#000" stroke-width="0.9"/>
<line x1="60.50" y1="357.00" x2="60.50" y2="360.60" stroke="#000" stroke-width="0.9"/>
<text x="23.40" y="265.00" font-size="8.75" text-anchor="middle" font-weight="normal" fill="#111" stroke="#111" stroke-width="0.22" transform="rotate(-90 23.40 265.00)">Fold induction of cytokine secretion</text>
<text x="34.20" y="265.00" font-size="9.0" text-anchor="middle" font-weight="normal" fill="#111" stroke="#111" stroke-width="0.22" transform="rotate(-90 34.20 265.00)">with respect to control</text>
<rect x="427.70" y="241.60" width="7.10" height="7.60" fill="#fff" stroke="#000" stroke-width="0.8"/>
<text x="438.90" y="248.30" font-size="8.8" text-anchor="start" font-weight="normal" fill="#111" stroke="#111" stroke-width="0.22">control</text>
<rect x="427.70" y="253.10" width="7.10" height="7.60" fill="#000" stroke="#000" stroke-width="0.8"/>
<text x="438.90" y="259.80" font-size="8.8" text-anchor="start" font-weight="normal" fill="#111" stroke="#111" stroke-width="0.22">vGPCR</text>
<rect x="427.70" y="268.60" width="7.10" height="7.60" fill="url(#h1L)" stroke="#000" stroke-width="0.8"/>
<text x="438.90" y="275.30" font-size="8.8" text-anchor="start" font-weight="normal" fill="#111" stroke="#111" stroke-width="0.22">vGPCR + PAKN</text>
<rect x="427.70" y="280.10" width="7.10" height="7.60" fill="url(#h2L)" stroke="#000" stroke-width="0.8"/>
<text x="438.90" y="286.80" font-size="8.8" text-anchor="start" font-weight="normal" fill="#111" stroke="#111" stroke-width="0.22">vGPCR + RacN17</text>
<rect x="427.70" y="295.50" width="7.10" height="7.60" fill="#9a9a9a" stroke="#000" stroke-width="0.8"/>
<text x="438.90" y="302.20" font-size="8.8" text-anchor="start" font-weight="normal" fill="#111" stroke="#111" stroke-width="0.22">PAKN</text>
<rect x="427.70" y="307.10" width="7.10" height="7.60" fill="#e2e2e2" stroke="#000" stroke-width="0.8"/>
<text x="438.90" y="313.80" font-size="8.8" text-anchor="start" font-weight="normal" fill="#111" stroke="#111" stroke-width="0.22">RacN17</text>
</g>
</svg>
</body></html>
